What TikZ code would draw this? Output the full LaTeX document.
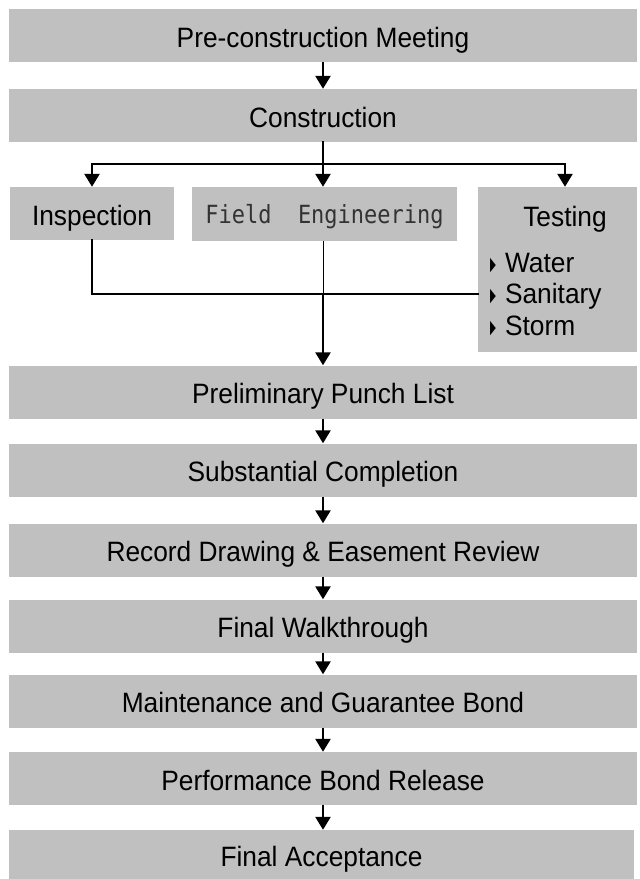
\documentclass[tikz,border=0pt]{standalone}
\usepackage{fontspec}
\usepackage{graphicx}
\setmainfont{Liberation Sans}[FakeStretch=0.94]
\newfontfamily\monofont{DejaVu Sans Mono}[FakeStretch=0.88]
\newfontfamily\symfont{DejaVu Sans}
\usetikzlibrary{arrows.meta}

\definecolor{boxgray}{RGB}{192,192,192}
\tikzstyle{stage} = [fill=boxgray, minimum height=53pt, inner sep=0pt, text height=23pt, text depth=0pt, font=\fontsize{28}{32}\selectfont]
\tikzstyle{wide} = [stage, minimum width=628pt]
\tikzstyle{flow} = [line width=2.5pt, -{Triangle[length=13pt,width=15pt]}]
\tikzstyle{link} = [line width=2.5pt, line cap=rect]
\newcommand\bul{\raisebox{2pt}{\scalebox{0.4}[1]{\symfont\fontsize{19}{19}\selectfont ▶}}}

\begin{document}
\begin{tikzpicture}[x=1pt,y=-1pt]
\useasboundingbox (0,0) rectangle (640,879);
\node [wide] (pre) at (323,35.5) {Pre-construction Meeting};
\node [wide] (con) at (323,115.5) {Construction};
% the three parallel tasks
\node [stage, minimum width=164pt] (insp) at (92,213.5) {Inspection};
\node [stage, minimum width=265pt, minimum height=54pt, text height=18pt, font=\monofont\fontsize{25}{28}\selectfont, text=black!80] (fe) at (324.5,214) {Field\ \ Engineering};
\node [stage, minimum width=159pt, minimum height=165pt] (test) at (557.5,269.5) {};
\node [inner sep=0pt, text height=23pt, text depth=0pt, font=\fontsize{28}{32}\selectfont] (testhd) at (565,215) {Testing};
\node [anchor=west, align=left, inner sep=0pt, font=\fontsize{28}{31.5}\selectfont] (testlist) at (490,294.5)
	{\bul\hspace{9pt}Water\\ \bul\hspace{9pt}Sanitary\\ \bul\hspace{9pt}Storm};
\foreach \nm/\yy/\txt in {punch/392/Preliminary Punch List, subst/470/Substantial Completion,
	record/550/Record Drawing \& Easement Review, walk/626/Final Walkthrough,
	maint/701/Maintenance and Guarantee Bond, perf/778.5/Performance Bond Release}
	\node [wide] (\nm) at (323,\yy) {\txt};
\node [stage, minimum width=625pt, minimum height=49pt] (final) at (321.5,854.5) {Final Acceptance};

\coordinate (split) at (323,164);
\coordinate (merge) at (323,294);
\draw [link] (con.south) -- (split);
\draw [link] (split -| insp) -- (split -| testhd);
\draw [flow] (split -| insp) -- (insp.north);
\draw [flow] (split) -- (split |- fe.north);
\draw [flow] (split -| testhd) -- (testhd |- test.north);
\draw [link] (insp.south) -- (insp.south |- merge) -- (merge -| test.west);
\draw [line width=1pt] (fe.south -| merge) -- (merge);
\draw [flow] (merge) -- (punch.north);
\foreach \a/\b in {pre/con, punch/subst, subst/record, record/walk, walk/maint, maint/perf, perf/final}
	\draw [flow] (\a.south) -- (\a.south |- \b.north);
\end{tikzpicture}
\end{document}
